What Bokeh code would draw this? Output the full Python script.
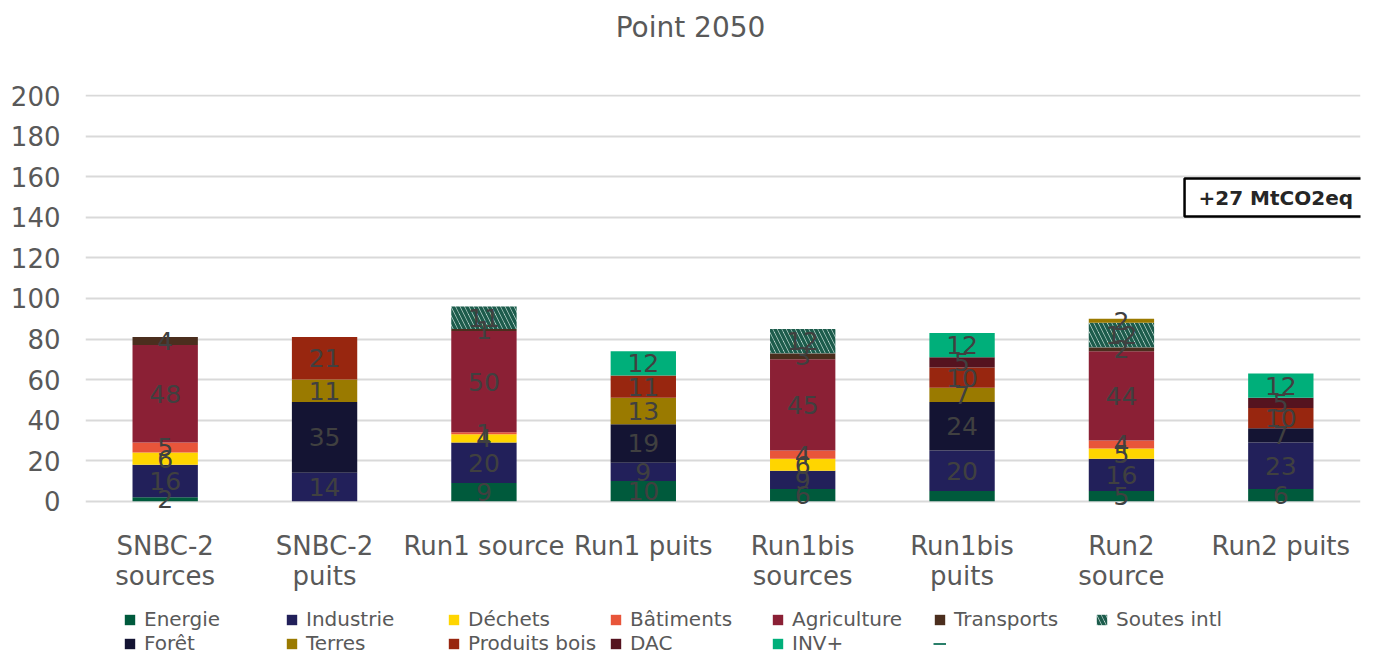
from bokeh.plotting import figure
from bokeh.layouts import column
from bokeh.models import ColumnDataSource, Range1d, FixedTicker, Legend, LegendItem, Label, FactorRange
from bokeh.core.properties import value
from bokeh.embed import file_html
from bokeh.resources import INLINE

categories = ["SNBC-2\nsources", "SNBC-2\npuits", "Run1 source", "Run1 puits",
              "Run1bis\nsources", "Run1bis\npuits", "Run2\nsource", "Run2 puits"]

energie       = [2, 0, 9, 10, 6, 5, 5, 6]
industrie     = [16, 14, 20, 9, 9, 20, 16, 23]
dechets       = [6, 0, 4, 0, 6, 0, 5, 0]
batiments     = [5, 0, 1, 0, 4, 0, 4, 0]
agriculture   = [48, 0, 50, 0, 45, 0, 44, 0]
transports    = [4, 0, 1, 0, 3, 0, 2, 0]
soutes_intl   = [0, 0, 11, 0, 12, 0, 12, 0]
foret         = [0, 35, 0, 19, 0, 24, 0, 7]
terres        = [0, 11, 0, 13, 0, 7, 2, 0]
produits_bois = [0, 21, 0, 11, 0, 10, 0, 10]
dac           = [0, 0, 0, 0, 0, 5, 0, 5]
inv_plus      = [0, 0, 0, 12, 0, 12, 0, 12]

series_names = ["Energie", "Industrie", "Déchets", "Bâtiments", "Agriculture", "Transports",
                "Soutes intl", "Forêt", "Terres", "Produits bois", "DAC", "INV+"]
series_values = [energie, industrie, dechets, batiments, agriculture, transports,
                 soutes_intl, foret, terres, produits_bois, dac, inv_plus]
series_colors = ["#005A3C", "#22205A", "#FFD500", "#E8553A", "#8B2035", "#4B2E1E",
                 "#E3F4EF", "#141433", "#9A7A00", "#98260F", "#55131F", "#00AF7A"]
unlabelled = [("Energie", "Run1bis\npuits")]

annotation_text = "+27 MtCO2eq"
title_text = "Point 2050"

FONT = "DejaVu Sans"
GREY = "#595959"
HATCH = dict(hatch_pattern="\\", hatch_color="#1D5C4C", hatch_weight=3.5, hatch_scale=9)
W = 1386
NAN = float("nan")

# header with title
hd = figure(width=W, height=54, output_backend="svg", toolbar_location=None,
            x_range=Range1d(0, 1), y_range=Range1d(0, 1),
            min_border_left=0, min_border_right=0, min_border_top=0, min_border_bottom=0)
hd.axis.visible = False
hd.grid.visible = False
hd.outline_line_color = None
hd.add_layout(Label(x=0.4745, y=0.5, text=title_text, text_align="center", text_baseline="middle",
                    text_font=FONT, text_font_size="28px", text_color=GREY))

p = figure(width=W, height=546, output_backend="svg", toolbar_location=None,
           x_range=FactorRange(*categories, range_padding=0), y_range=Range1d(-10, 200.6),
           min_border_left=85, min_border_right=26, min_border_top=40, min_border_bottom=79)
p.outline_line_color = None
p.background_fill_color = "white"
p.border_fill_color = "white"

bottoms = [0] * len(categories)
lab_x, lab_y, lab_t = [], [], []
for name, vals, col in zip(series_names, series_values, series_colors):
    tops = [b + v for b, v in zip(bottoms, vals)]
    src = ColumnDataSource(dict(x=categories, bottom=bottoms, top=tops))
    kw = dict(x="x", bottom="bottom", top="top", width=0.41, source=src,
              fill_color=col, line_color=None)
    if name == "Soutes intl":
        kw.update(HATCH)
    p.vbar(**kw)
    for c, b, v in zip(categories, bottoms, vals):
        if v and (name, c) not in unlabelled:
            lab_x.append(c)
            lab_y.append(b + v / 2)
            lab_t.append(str(v))
    bottoms = tops

p.text(x=lab_x, y=lab_y, text=lab_t, text_align="center", text_baseline="middle",
       text_font=value(FONT), text_font_size="25px", text_color="#404040")

p.yaxis.ticker = FixedTicker(ticks=list(range(0, 201, 20)))
p.ygrid.ticker = FixedTicker(ticks=list(range(0, 201, 20)))
p.ygrid.grid_line_color = "#D9D9D9"
p.ygrid.grid_line_width = 2
p.xgrid.grid_line_color = None
for ax in (p.xaxis, p.yaxis):
    ax.axis_line_color = None
    ax.major_tick_line_color = None
    ax.minor_tick_line_color = None
    ax.major_label_text_font = FONT
    ax.major_label_text_color = GREY
p.yaxis.major_label_text_font_size = "26px"
p.yaxis.major_label_standoff = 19
p.xaxis.major_label_text_font_size = "26px"
p.xaxis.major_label_text_line_height = 1.0
p.xaxis.major_label_standoff = 3

ann = Label(x=6.896, y=149.75, text=annotation_text, text_align="left", text_baseline="middle",
            text_font=FONT, text_font_size="20px", text_font_style="bold", text_color="#262626",
            border_line_color="black", border_line_width=2.5, background_fill_color="white",
            padding=(14, 7))
p.add_layout(ann)

# legend strip
lg = figure(width=W, height=55, output_backend="svg", toolbar_location=None,
            x_range=Range1d(0, 1), y_range=Range1d(0, 1),
            min_border_left=0, min_border_right=0, min_border_top=0, min_border_bottom=0)
lg.axis.visible = False
lg.grid.visible = False
lg.outline_line_color = None
items = []
for name, col in zip(series_names, series_colors):
    kw = dict(x=[NAN], bottom=[NAN], top=[NAN], width=0.1, fill_color=col, line_color=None)
    if name == "Soutes intl":
        kw.update(HATCH)
    r = lg.vbar(**kw)
    items.append(LegendItem(label=name, renderers=[r]))
blank = lg.line(x=[NAN, NAN], y=[NAN, NAN], line_color="#2A7F6A", line_width=2)
items.append(LegendItem(label=" ", renderers=[blank]))

leg_kw = dict(orientation="horizontal", label_text_font=FONT, label_text_font_size="20px",
              label_text_color=GREY, glyph_width=13, glyph_height=13, label_standoff=8,
              label_width=135, label_height=20, spacing=6, padding=0, margin=0,
              border_line_color=None, background_fill_alpha=0)
legend1 = Legend(items=items[:7], location=(38, 24), **leg_kw)
legend2 = Legend(items=items[7:], location=(38, 0), **leg_kw)
lg.add_layout(legend1)
lg.add_layout(legend2)

layout = column(hd, p, lg, spacing=0)
open("out.html", "w").write(file_html(layout, INLINE))
